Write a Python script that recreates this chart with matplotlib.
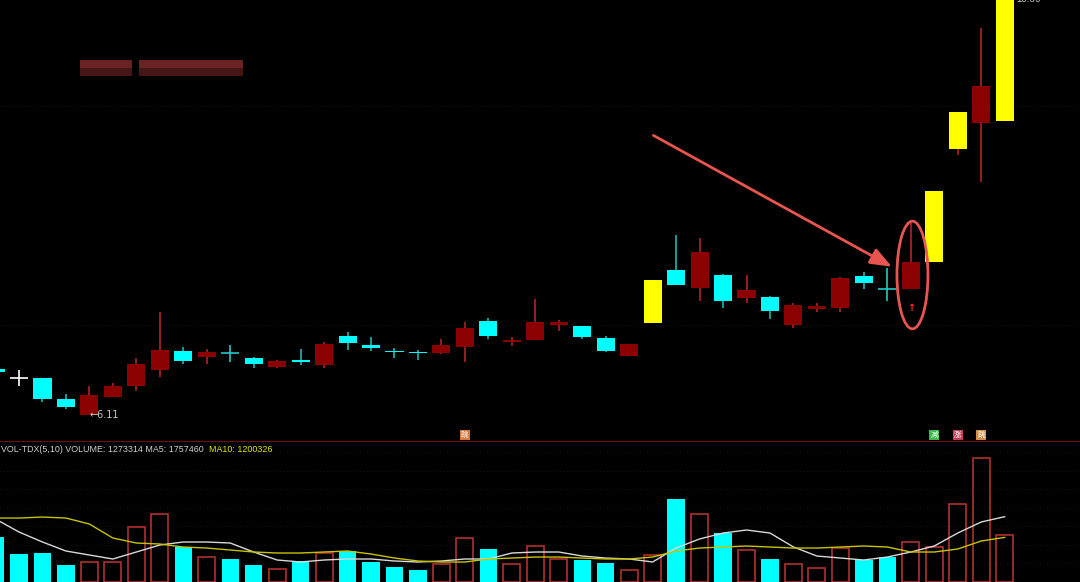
import matplotlib
matplotlib.use("Agg")
import matplotlib.pyplot as plt
from matplotlib.patches import Rectangle, Ellipse

plt.rcParams['font.family'] = ['Liberation Sans', 'Noto Sans CJK SC']

# -----------------------------
# daily candles
# kind: u = up, d = down, fc = flat cyan, fw = flat white, y = limit up
# -----------------------------
opens = [6.61, 6.52, 6.52, 6.29, 6.11, 6.31, 6.43, 6.60, 6.81, 6.75,
         6.79, 6.73, 6.64, 6.71, 6.66, 6.98, 6.88, 6.81, 6.80, 6.79,
         6.86, 7.14, 6.91, 6.93, 7.10, 7.09, 6.95, 6.76, 7.12, 7.70,
         7.50, 7.64, 7.39, 7.40, 7.10, 7.27, 7.28, 7.63, 7.49, 7.49,
         7.79, 9.03, 9.31, 9.33]
highs = [6.63, 6.60, 6.52, 6.34, 6.43, 6.46, 6.73, 7.24, 6.86, 6.83,
         6.88, 6.75, 6.71, 6.83, 6.91, 7.02, 6.97, 6.84, 6.82, 6.94,
         7.13, 7.17, 6.97, 7.38, 7.15, 7.09, 6.98, 6.89, 7.59, 8.08,
         8.05, 7.66, 7.64, 7.42, 7.34, 7.34, 7.62, 7.68, 7.72, 8.21,
         8.57, 9.43, 10.35, 10.66]
lows = [6.57, 6.43, 6.25, 6.18, 6.11, 6.31, 6.37, 6.53, 6.67, 6.67,
        6.69, 6.63, 6.63, 6.66, 6.63, 6.82, 6.81, 6.73, 6.71, 6.78,
        6.69, 6.94, 6.87, 6.93, 7.03, 6.94, 6.80, 6.76, 7.12, 7.54,
        7.36, 7.28, 7.34, 7.16, 7.06, 7.24, 7.24, 7.49, 7.36, 7.49,
        7.79, 8.96, 8.67, 9.33]
closes = [6.58, 6.52, 6.29, 6.20, 6.33, 6.43, 6.67, 6.82, 6.70, 6.80,
          6.79, 6.67, 6.70, 6.69, 6.89, 6.90, 6.84, 6.80, 6.79, 6.88,
          7.06, 6.98, 6.93, 7.13, 7.13, 6.97, 6.81, 6.89, 7.59, 7.54,
          7.90, 7.36, 7.48, 7.25, 7.32, 7.30, 7.61, 7.56, 7.49, 7.79,
          8.57, 9.43, 9.72, 10.66]
kinds = ['d', 'fw', 'd', 'd', 'u', 'u', 'u', 'u', 'd', 'u',
         'fc', 'd', 'u', 'd', 'u', 'd', 'd', 'd', 'd', 'u',
         'u', 'd', 'u', 'u', 'u', 'd', 'd', 'u', 'y', 'd',
         'u', 'd', 'u', 'd', 'u', 'u', 'u', 'd', 'fc', 'u',
         'y', 'y', 'u', 'y']

# volume and its moving averages (shares)
volumes = [1210000, 753000, 780000, 457000, 538000, 538000, 1479000, 1829000, 941000, 672000,
           619000, 457000, 350000, 565000, 780000, 834000, 538000, 403000, 323000, 484000,
           1183000, 888000, 484000, 968000, 619000, 592000, 511000, 323000, 726000, 2232000,
           1829000, 1318000, 861000, 619000, 484000, 377000, 914000, 592000, 672000, 1076000,
           941000, 2098000, 3335000, 1273314]
ma5 = [1694000, 1345000, 1076000, 834000, 726000, 619000, 807000, 995000, 1076000, 1076000,
       1049000, 807000, 592000, 538000, 592000, 619000, 619000, 565000, 538000, 565000,
       619000, 619000, 780000, 807000, 807000, 699000, 645000, 619000, 538000, 915000,
       1157000, 1318000, 1399000, 1318000, 942000, 699000, 645000, 592000, 672000, 807000,
       968000, 1318000, 1614000, 1757460]
ma10 = [1721000, 1721000, 1748000, 1721000, 1560000, 1183000, 1049000, 1022000, 941000, 914000,
        861000, 807000, 780000, 780000, 807000, 834000, 753000, 645000, 565000, 538000,
        538000, 619000, 645000, 672000, 672000, 645000, 619000, 619000, 672000, 834000,
        914000, 941000, 968000, 941000, 914000, 914000, 941000, 968000, 941000, 807000,
        807000, 888000, 1103000, 1200326]

x = list(range(len(opens)))

UP_BODY, UP_WICK = '#8b0000', '#b22222'
DN_BODY, DN_WICK = '#00ffff', '#1fb5b5'
LIMIT = '#ffff00'
VOL_RED = '#b03030'

fig = plt.figure(figsize=(10.8, 5.82), dpi=100, facecolor='black')
ax = fig.add_axes([0, 140 / 582, 1, 442 / 582])
ax2 = fig.add_axes([0, 0, 1, 139 / 582])
for a in (ax, ax2):
    a.set_facecolor('black')
    a.set_xlim(0.19, 46.21)
    a.set_xticks([])
    a.set_yticks([])
    for s in a.spines.values():
        s.set_visible(False)
ax.set_ylim(5.814, 10.66)
ax2.set_ylim(0, 3.74e6)

# faint dotted grid
for lvl in [7.10, 9.50]:
    ax.axhline(lvl, color='#2a1818', lw=0.6, ls=(0, (1, 3)))
for lvl in [500000, 1000000, 1500000, 2000000, 2500000, 3000000, 3500000]:
    ax2.axhline(lvl, color='#1e1e1e', lw=0.6, ls=(0, (1, 3)), zorder=0)

# panel divider
ax.axhline(5.814 + 0.004, color='#8a1010', lw=1.2)

# -----------------------------
# 1. CANDLES
# -----------------------------
bw = 0.77
for i, o, h, l, c, k in zip(x, opens, highs, lows, closes, kinds):
    if k == 'u':
        ax.vlines(i, l, h, color=UP_WICK, lw=1.2)
        ax.bar(i, c - o, bw, bottom=o, color=UP_BODY, zorder=3)
    elif k == 'd':
        ax.vlines(i, l, h, color=DN_WICK, lw=1.2)
        ax.bar(i, max(o - c, 0.012), bw, bottom=c, color=DN_BODY, zorder=3)
    elif k == 'y':
        ax.vlines(i, l, h, color=UP_WICK, lw=1.2)
        ax.bar(i, c - o, bw, bottom=o, color=LIMIT, zorder=3)
    else:
        col = '#ffffff' if k == 'fw' else '#22c8c8'
        ax.vlines(i, l, h, color=col, lw=1.2)
        ax.hlines(o, i - bw / 2, i + bw / 2, color=col, lw=1.2)

ax.text(4, lows[4], "\u2190" + "6.11", color='#c8c8c8', fontsize=7, va='center', ha='left',
        family=['DejaVu Sans'])
ax.text(43.5, highs[43] + 0.01, "10.66", color='#c8c8c8', fontsize=7, va='center', ha='left')

# annotation: arrow + ellipse around the key candle
ax.annotate("", xy=(38.3, 7.72), xytext=(27.93, 9.19),
            arrowprops=dict(arrowstyle='-|>,head_length=1.3,head_width=0.5',
                            color='#e8554e', lw=2))
ax.add_patch(Ellipse((39.07, 7.645), 1.32, 1.18, fill=False, ec='#e8554e', lw=2, zorder=5))
ax.text(39, 7.28, "\u2191", color='#ff2a2a', fontsize=7, ha='center', va='center',
        fontweight='bold', family=['DejaVu Sans'])

# signal markers above the divider
marks = [(20, '#d8783a', '跳'), (40, '#3cb84c', '减'), (41, '#c83c5a', '涨'), (42, '#d0904a', '跳')]
for i, col, ch in marks:
    ax.text(i, 5.89, ch, color='white', fontsize=5.5, ha='center', va='center',
            family=['Noto Sans CJK SC', 'DejaVu Sans'],
            bbox=dict(boxstyle='square,pad=0.15', fc=col, ec='none'))

# blurred caption at top left
for x0, w in [(80, 52), (139, 104)]:
    fig.add_artist(Rectangle((x0 / 1080, 1 - 68 / 582), w / 1080, 8 / 582,
                             transform=fig.transFigure, fc='#6a2222', ec='none'))
    fig.add_artist(Rectangle((x0 / 1080, 1 - 76 / 582), w / 1080, 8 / 582,
                             transform=fig.transFigure, fc='#461616', ec='none'))

# -----------------------------
# 2. VOLUME
# -----------------------------
for i, v, k in zip(x, volumes, kinds):
    if k in ('u', 'y'):
        ax2.bar(i, v, 0.72, facecolor='none', edgecolor=VOL_RED, lw=1.2, zorder=2)
    else:
        ax2.bar(i, v, 0.74, color=DN_BODY, zorder=2)
ax2.plot(x, ma5, color='#d8d8d8', lw=1, zorder=3)
ax2.plot(x, ma10, color='#c8c200', lw=1, zorder=3)

t1 = ax2.text(0.001, 0.955, "VOL-TDX(5,10) VOLUME: 1273314 MA5: 1757460", color='#d0d0d0',
              fontsize=6.4, transform=ax2.transAxes, va='center', ha='left')
ax2.annotate("MA10: 1200326", xy=(1, 0.5), xycoords=t1, xytext=(4, 0),
             textcoords='offset points', color='#e8e800', fontsize=6.4, va='center', ha='left')

fig.savefig("out.png", dpi=100, facecolor='black')
